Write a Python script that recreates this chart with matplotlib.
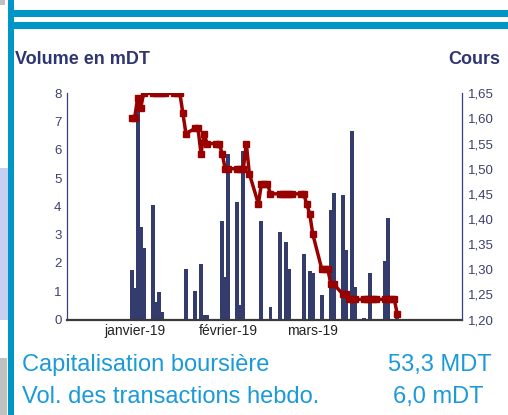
import numpy as np
import pandas as pd
import matplotlib
matplotlib.use("Agg")
import matplotlib.pyplot as plt
import matplotlib.dates as mdates
from matplotlib.patches import Rectangle

plt.rcParams['font.family'] = ['Liberation Sans', 'DejaVu Sans']

W, H = 508, 415

# volume (mDT) per trading day
vol_dates = ["2018-12-31", "2019-01-01", "2019-01-02", "2019-01-03", "2019-01-04",
             "2019-01-07", "2019-01-08", "2019-01-09", "2019-01-10",
             "2019-01-18", "2019-01-21", "2019-01-23", "2019-01-24", "2019-01-25",
             "2019-01-30", "2019-01-31", "2019-02-01", "2019-02-04", "2019-02-05",
             "2019-02-06", "2019-02-12", "2019-02-15", "2019-02-18", "2019-02-20",
             "2019-02-21", "2019-02-26", "2019-02-28", "2019-03-01", "2019-03-04",
             "2019-03-07", "2019-03-08", "2019-03-11", "2019-03-12", "2019-03-14",
             "2019-03-15", "2019-03-18", "2019-03-20", "2019-03-25", "2019-03-26",
             "2019-03-29"]
volumes = [1.75, 1.1, 7.5, 3.28, 2.52,
           4.05, 0.62, 0.98, 0.27,
           1.8, 1.0, 1.98, 0.15, 0.15,
           3.5, 1.5, 5.85, 4.16, 0.5,
           5.96, 3.48, 0.45, 3.1, 2.75,
           1.8, 2.31, 1.72, 1.65, 0.86,
           3.87, 4.47, 4.4, 2.46, 6.67,
           1.15, 0.05, 1.64, 2.07, 3.6,
           0.25]

# closing price, every weekday 31/12/2018 -> 29/03/2019
price_dates = pd.bdate_range("2018-12-31", "2019-03-29")
prices = [1.60,
          1.60, 1.64, 1.62, 1.65, 1.65, 1.65, 1.65, 1.65, 1.65, 1.65, 1.65, 1.65,
          1.61, 1.57, 1.58, 1.58, 1.53, 1.57, 1.55, 1.55, 1.55, 1.53, 1.50,
          1.50, 1.50, 1.50, 1.50, 1.55, 1.49, 1.43, 1.47, 1.47, 1.47, 1.45,
          1.45, 1.45, 1.45, 1.45, 1.45, 1.45, 1.45, 1.43, 1.41,
          1.37, 1.30, 1.30, 1.30, 1.27, 1.27, 1.25, 1.25, 1.24, 1.24, 1.24,
          1.24, 1.24, 1.24, 1.24, 1.24, 1.24, 1.24, 1.24, 1.24, 1.21]

month_ticks = ["2019-01-01", "2019-02-01", "2019-03-01"]
month_labels = ["janvier-19", "février-19", "mars-19"]
vol_ticks = list(range(0, 9))
price_ticks = [1.20, 1.25, 1.30, 1.35, 1.40, 1.45, 1.50, 1.55, 1.60, 1.65]

navy = "#343c6e"
label_col = "#3d406e"
frame_blue = "#0096c8"
text_blue = "#1a9ad8"

fig = plt.figure(figsize=(W / 100, H / 100), dpi=100)


def px_rect(x, y, w, h, color):
    fig.add_artist(Rectangle((x / W, 1 - (y + h) / H), w / W, h / H,
                             transform=fig.transFigure, color=color, lw=0))


# page decoration
px_rect(0, 0, 5, 5, "#c0c0c0")
px_rect(0, 168, 8, 152, "#c8d0f2")
px_rect(0, 358, 7, 57, "#c0c0c0")
px_rect(8, 0, 6, H, frame_blue)
px_rect(8, 10, W - 8, 7, frame_blue)
px_rect(8, 22, W - 8, 7, frame_blue)

ax = fig.add_axes([67 / W, 1 - 319.5 / H, (462 - 67) / W, (319.5 - 93.3) / H])
ax2 = ax.twinx()

xv = mdates.date2num(pd.to_datetime(vol_dates))
ax.bar(xv, volumes, width=1.3, color=navy, linewidth=0)

xp = mdates.date2num(price_dates)
ax2.plot(xp, prices, color="#990000", lw=2.5, marker="s", ms=3.8,
         solid_joinstyle="miter")

ax.set_xlim(mdates.date2num(pd.Timestamp("2018-12-09 15:00")),
            mdates.date2num(pd.Timestamp("2019-04-19 10:00")))
ax.set_ylim(0, 8)
ax2.set_ylim(1.20, 1.65)

ax.set_xticks(mdates.date2num(pd.to_datetime(month_ticks)))
ax.set_xticklabels(month_labels)
ax.set_yticks(vol_ticks)
ax2.set_yticks(price_ticks)
ax2.set_yticklabels([f"{v:.2f}".replace(".", ",") for v in price_ticks])

for a in (ax, ax2):
    for s in a.spines.values():
        s.set_visible(False)
    a.tick_params(length=0, labelsize=9.5, colors=label_col)
ax.tick_params(axis="y", pad=4)
ax.tick_params(axis="x", pad=3, colors="#222222", labelsize=10)
ax2.tick_params(axis="y", pad=4)

ax.spines["left"].set_visible(True)
ax.spines["left"].set_color("#3b3f7a")
ax.spines["left"].set_linewidth(0.9)
ax.spines["bottom"].set_visible(True)
ax.spines["bottom"].set_color("#3a3a3a")
ax.spines["bottom"].set_linewidth(1.6)
ax2.spines["right"].set_visible(True)
ax2.spines["right"].set_color("#3b3f7a")
ax2.spines["right"].set_linewidth(0.9)

title_col = "#2f3570"
fig.text(15 / W, 1 - 60 / H, "Volume en mDT", fontsize=13, fontweight="bold",
         color=title_col, ha="left", va="center")
fig.text(500 / W, 1 - 60 / H, "Cours", fontsize=13, fontweight="bold",
         color=title_col, ha="right", va="center")

fig.text(22 / W, 1 - 365 / H, "Capitalisation boursière", fontsize=17,
         color=text_blue, ha="left", va="center")
fig.text(22 / W, 1 - 397 / H, "Vol. des transactions hebdo.", fontsize=17,
         color=text_blue, ha="left", va="center")
fig.text(440 / W, 1 - 365 / H, "53,3 MDT", fontsize=17,
         color=text_blue, ha="center", va="center")
fig.text(438 / W, 1 - 397 / H, "6,0 mDT", fontsize=17,
         color=text_blue, ha="center", va="center")

fig.savefig("out.png", dpi=100)
